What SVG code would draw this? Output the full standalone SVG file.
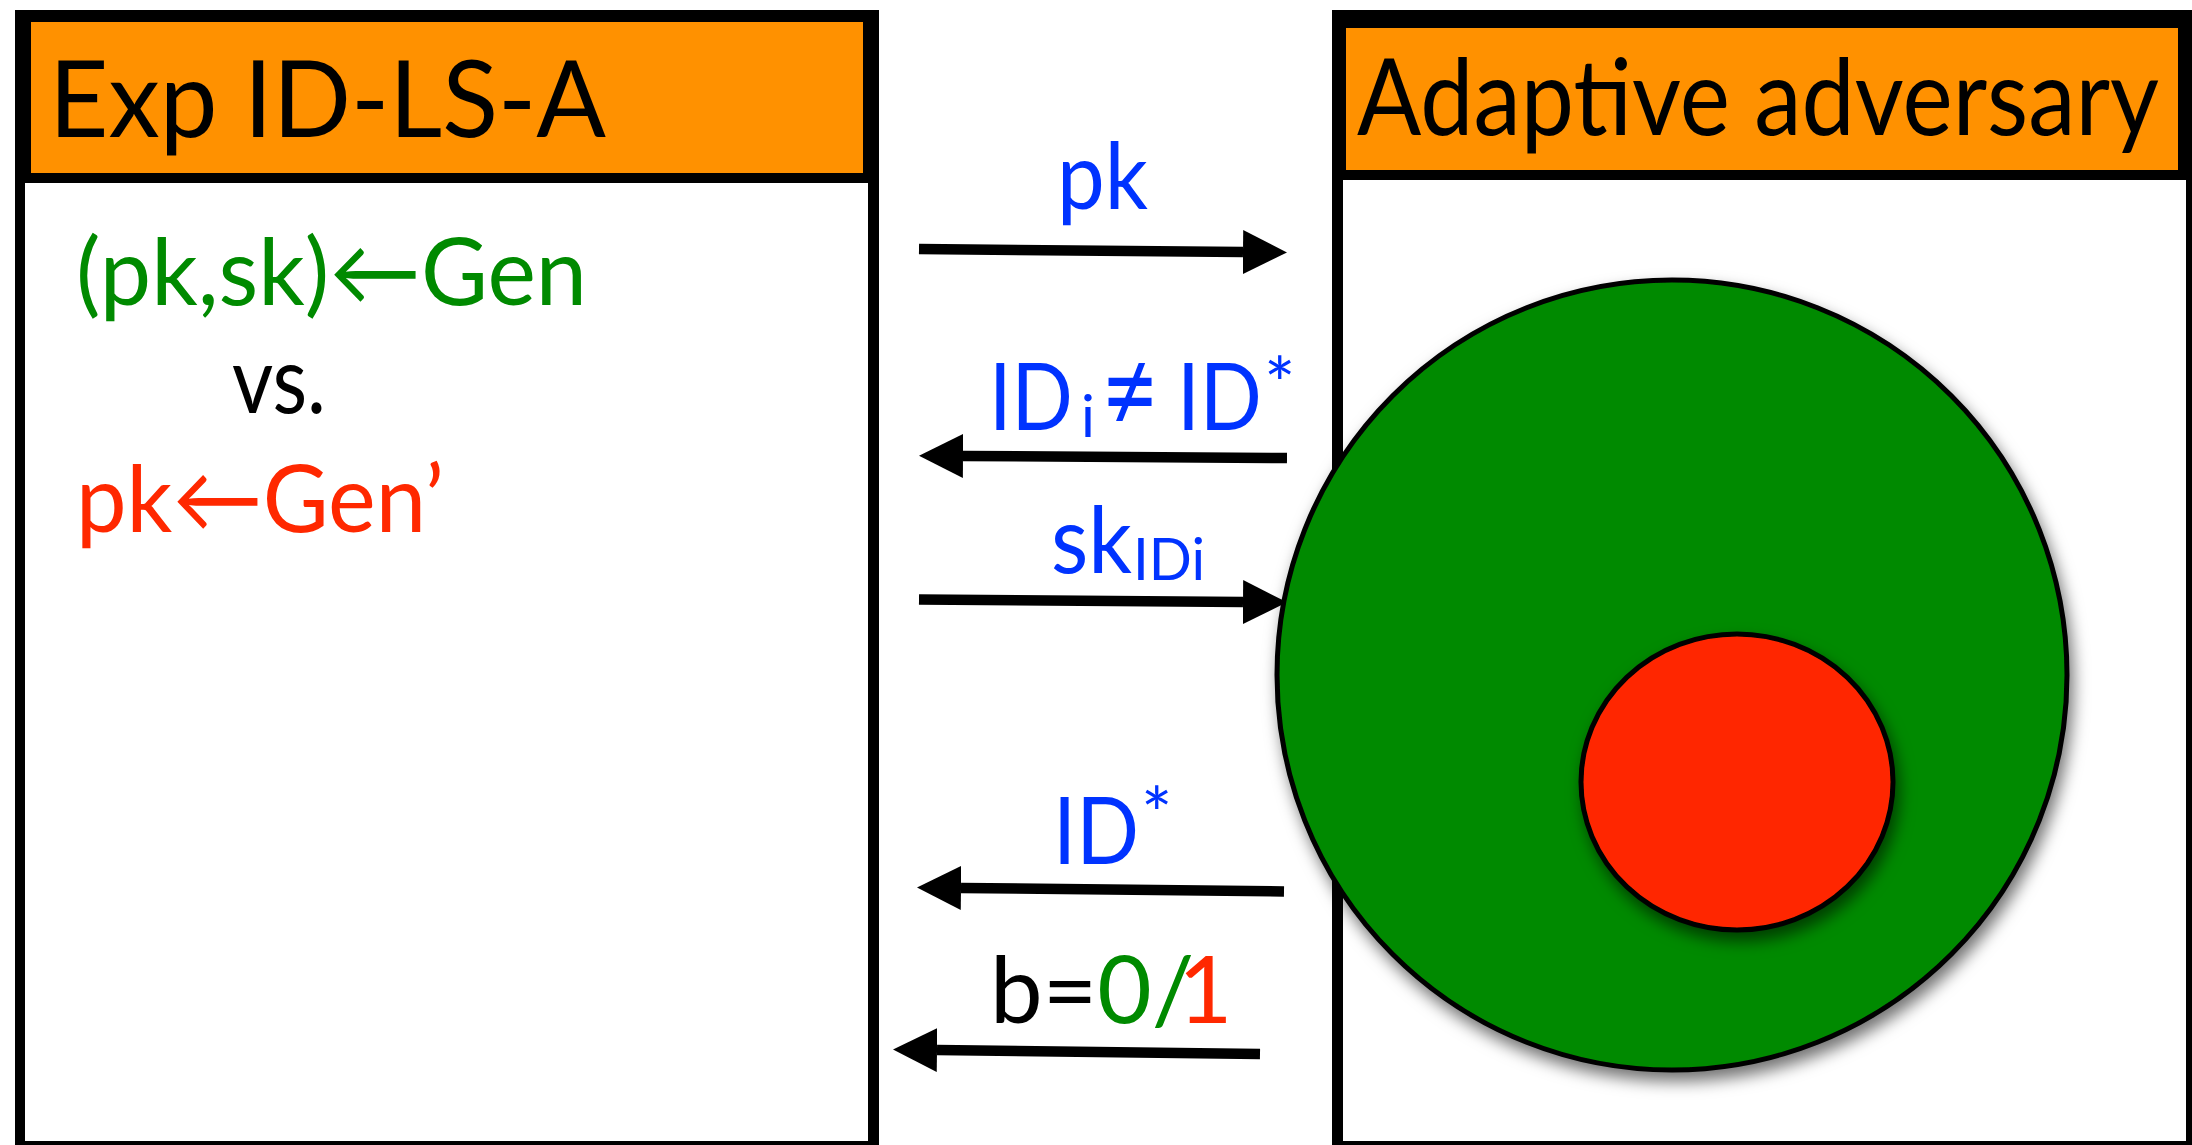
<svg xmlns="http://www.w3.org/2000/svg" width="2192" height="1145" viewBox="0 0 2192 1145">
  <style>
    .t { font-family: Lato, "Open Sans", "Liberation Sans", sans-serif; }
    .title { font-size: 106px; fill: #000; }
    .big { font-size: 94px; }
    .sub { font-size: 58px; }
    .star { font-size: 74px; }
    .neq { font-size: 120px; }
    .blue { fill: #0033ff; }
    .green { fill: #008a00; }
    .red { fill: #ff2800; }
    .black { fill: #000; }
    .conn { stroke: #000; stroke-width: 10.5; fill: none; marker-end: url(#ah); }
    .frame { fill: #000; }
    .hdr { fill: #ff9100; }
    .body { fill: #fff; }
  </style>
  <defs>
    <marker id="ah" markerUnits="userSpaceOnUse" viewBox="0 -23 45 46" markerWidth="45" markerHeight="46" refX="0" refY="0" orient="auto">
      <path d="M0,-22 L44,0 L0,22 z" fill="#000"/>
    </marker>
    <filter id="shadow" x="-20%" y="-20%" width="140%" height="140%">
      <feDropShadow dx="4" dy="9" stdDeviation="8" flood-color="#000" flood-opacity="0.55"/>
    </filter>
  </defs>
  <rect width="2192" height="1145" fill="#fff"/>

  <g id="experiment">
    <rect class="frame" x="15" y="10" width="864" height="1140"/>
    <rect class="hdr" x="31" y="22" width="832" height="151"/>
    <rect class="body" x="25" y="183" width="843" height="958"/>
    <text class="t title" x="49" y="137" textLength="557" lengthAdjust="spacingAndGlyphs">Exp ID-LS-A</text>
    <text class="t big green" x="76" y="305" font-size="97" textLength="511" lengthAdjust="spacingAndGlyphs">(pk,sk)←Gen</text>
    <text class="t big black" x="232" y="413" textLength="94" lengthAdjust="spacingAndGlyphs">vs.</text>
    <text class="t big red" x="76" y="532" font-size="97" textLength="368" lengthAdjust="spacingAndGlyphs">pk←Gen’</text>
  </g>

  <g id="adversary">
    <rect class="frame" x="1332" y="10" width="870" height="1140"/>
    <rect class="hdr" x="1346" y="28" width="832" height="142"/>
    <rect class="body" x="1343" y="180" width="843" height="961"/>
    <text class="t title" x="1357" y="135" font-size="99" textLength="802" lengthAdjust="spacingAndGlyphs">Adaptive adversary</text>
  </g>

  <g id="connectors">
    <path class="conn" d="M919,249 L1243,252"/>
    <path class="conn" d="M1287,458 L963,456"/>
    <path class="conn" d="M919,599.5 L1243,602"/>
    <path class="conn" d="M1284,891.5 L961,888"/>
    <path class="conn" d="M1260,1054 L937,1050"/>
  </g>

  <g id="labels">
    <text class="t big blue" x="1057" y="209" textLength="91" lengthAdjust="spacingAndGlyphs">pk</text>
    <text class="t blue">
      <tspan class="big" x="989" y="430" textLength="84" lengthAdjust="spacingAndGlyphs">ID</tspan><tspan class="sub" x="1081" y="437">i</tspan><tspan class="neq" x="1101" y="432" textLength="58" lengthAdjust="spacingAndGlyphs">≠</tspan><tspan class="big" x="1177" y="430" textLength="85" lengthAdjust="spacingAndGlyphs">ID</tspan><tspan class="star" x="1264" y="411">*</tspan>
    </text>
    <text class="t blue">
      <tspan class="big" x="1051" y="573" textLength="81" lengthAdjust="spacingAndGlyphs">sk</tspan><tspan class="sub" x="1133" y="580" textLength="72" lengthAdjust="spacingAndGlyphs">IDi</tspan>
    </text>
    <text class="t blue">
      <tspan class="big" x="1053" y="864" textLength="86" lengthAdjust="spacingAndGlyphs">ID</tspan><tspan class="star" x="1141" y="841">*</tspan>
    </text>
    <text class="t big">
      <tspan class="black" x="990" y="1023">b=</tspan><tspan class="green">0/</tspan><tspan class="red" x="1178">1</tspan>
    </text>
  </g>

  <g id="sets">
    <ellipse cx="1672" cy="675" rx="395" ry="395" fill="#008a00" stroke="#000" stroke-width="5" filter="url(#shadow)"/>
    <ellipse cx="1737" cy="782" rx="156" ry="148" fill="#ff2800" stroke="#000" stroke-width="5" filter="url(#shadow)"/>
  </g>
</svg>
